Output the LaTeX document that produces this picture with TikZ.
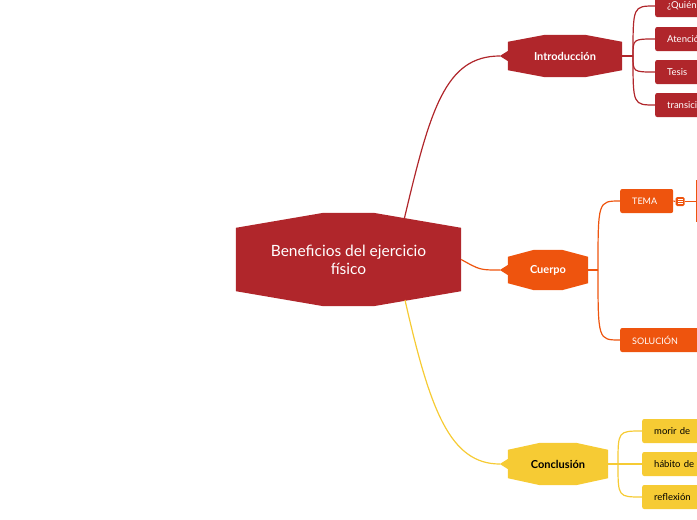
\documentclass[tikz,border=0pt]{standalone}
\usepackage{fontspec}
\setmainfont{Lato}
\usetikzlibrary{calc}
\definecolor{cred}{HTML}{B0262B}
\definecolor{corg}{HTML}{EE540E}
\definecolor{cyel}{HTML}{F6CB34}
\newcommand\hexfill[4]{%
 \fill[#2] ([yshift=-#3]#1.north west) -- ([xshift=-#4]#1.north) -- ([xshift=#4]#1.north) -- ([yshift=-#3]#1.north east) -- ([yshift=#3]#1.south east) -- ([xshift=#4]#1.south) -- ([xshift=-#4]#1.south) -- ([yshift=#3]#1.south west) -- cycle;}
\newcommand\tipfill[2]{\fill[#2] ([xshift=-8pt]#1.west) -- ([yshift=5pt]#1.west) -- ([yshift=-5pt]#1.west) -- cycle;}
\tikzset{
 sub/.style={inner sep=0pt,font=\bfseries\fontsize{11}{13}\selectfont,text=white},
 leaf/.style={anchor=west,fill=#1,rounded corners=2pt,text=white,minimum height=24pt,text width=70pt,inner xsep=12pt,font=\fontsize{9.5}{11}\selectfont,align=left},
 con/.style={line width=1.2pt},
}
\begin{document}
\begin{tikzpicture}[x=1pt,y=-1pt]
\useasboundingbox (0,0) rectangle (697,520);
\clip (0,0) rectangle (697,520);
% central
\node[minimum width=225pt,minimum height=93pt,inner sep=0pt] (c) at (348.5,259.5) {};
\hexfill{c}{cred}{15pt}{25pt}
\node[text=white,align=center,font=\fontsize{15.5}{18}\selectfont] (ct) at (348.5,260) {Beneficios del ejercicio\\físico};
% sub nodes
\node[minimum width=114pt,minimum height=42pt] (intro) at (565,56) {};
\node[minimum width=80pt,minimum height=40pt] (cue) at (548,270) {};
\node[minimum width=100pt,minimum height=42pt] (conc) at (558,464) {};
\hexfill{intro}{cred}{7pt}{20pt}\tipfill{intro}{cred}
\hexfill{cue}{corg}{7pt}{14pt}\tipfill{cue}{corg}
\hexfill{conc}{cyel}{7pt}{18pt}\tipfill{conc}{cyel}
\node[sub] (introt) at (intro) {Introducción};
\node[sub] (cuet) at (cue) {Cuerpo};
\node[sub,text=black] (conct) at (conc) {Conclusión};
% main connectors
\coordinate (c1) at (404,220);
\coordinate (c3) at (405,300);
\draw[con,cred] (c1) .. controls (430,110) and (445,56) .. ([xshift=-8pt]intro.west);
\draw[con,corg] (c.east) .. controls (480,270) .. ([xshift=-8pt]cue.west);
\draw[con,cyel] (c3) .. controls (430,410) and (450,464) .. ([xshift=-8pt]conc.west);
% intro leaves
\node[leaf=cred,minimum height=22pt] (i1) at (655,6) {¿Quién};
\node[leaf=cred] (i2) at (655,39) {Atención};
\node[leaf=cred] (i3) at (655,72) {Tesis};
\node[leaf=cred] (i4) at (655,105) {transición};
\coordinate (ij) at (633,56);
\draw[con,cred] (intro.east) -- (ij);
\foreach \n in {i1,i2,i3,i4}{\draw[con,cred] (ij) .. controls (ij |- \n.west) .. (\n.west);}
% cuerpo leaves
\node[leaf=corg,text width=29pt,inner xsep=12pt,font=\fontsize{9}{10}\selectfont] (t1) at (620,201) {TEMA};
\node[leaf=corg,font=\fontsize{9}{10}\selectfont] (t2) at (620,340) {SOLUCIÓN};
\coordinate (cj) at (598,270);
\draw[con,corg] (cue.east) -- (cj);
\foreach \n in {t1,t2}{\draw[con,corg] (cj) .. controls (cj |- \n.west) .. (\n.west);}
\node[fill=corg,rounded corners=1.5pt,minimum size=9pt,inner sep=0pt] (ic) at (680,201.5) {};
\draw[white,line width=0.6pt] (677.5,199.5) -- (682.5,199.5) (677.5,201.5) -- (682.5,201.5) (677.5,203.5) -- (682.5,203.5);
\draw[con,corg] (t1.east) -- (ic.west);
\coordinate (tv) at (697,201.5);
\draw[con,corg] (ic.east) -- (tv);
\draw[con,corg] (696.5,180) -- (696.5,222);
% conclusion leaves
\node[leaf=cyel,text=black] (k1) at (642,431) {morir de};
\node[leaf=cyel,text=black] (k2) at (642,464) {hábito de};
\node[leaf=cyel,text=black] (k3) at (642,497) {reflexión};
\coordinate (kj) at (618,464);
\draw[con,cyel] (conc.east) -- (kj);
\foreach \n in {k1,k2,k3}{\draw[con,cyel] (kj) .. controls (kj |- \n.west) .. (\n.west);}
\end{tikzpicture}
\end{document}
